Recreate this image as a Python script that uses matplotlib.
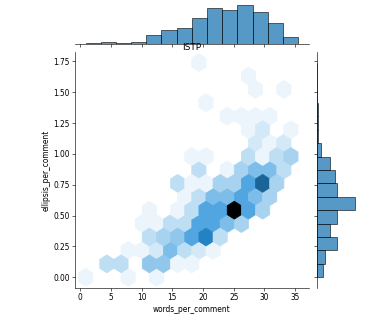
import colorsys
import numpy as np
import matplotlib
matplotlib.use("Agg")
import matplotlib.pyplot as plt
from matplotlib.colors import LinearSegmentedColormap, to_rgb, Normalize

# ---------------- data ----------------
title = "ISTP"
x_label = "words_per_comment"
y_label = "ellipsis_per_comment"

# hexbin cells (cell centre in data units, number of users in the cell)
hex_words = [
    19.34,
    27.43,
    28.58, 33.20,
    20.50,
    23.96, 26.27, 28.58, 30.89,
    27.43, 29.74, 34.36,
    28.58, 30.89, 33.20,
    18.19, 20.50, 27.43, 29.74, 32.05, 34.36,
    19.34, 23.96, 26.27, 28.58, 30.89, 33.20,
    15.88, 18.19, 20.50, 22.81, 25.12, 27.43, 29.74, 32.05,
    17.03, 19.34, 21.65, 23.96, 26.27, 28.58, 30.89,
    11.26, 15.88, 18.19, 20.50, 22.81, 25.12, 27.43, 29.74,
    10.10, 12.41, 14.72, 17.03, 19.34, 21.65, 23.96, 26.27,
    11.26, 13.57, 15.88, 18.19, 20.50, 22.81,
    7.79, 10.10, 12.41, 14.72, 17.03, 19.34, 21.65,
    4.33, 6.64, 11.26, 13.57, 15.88, 18.19,
    0.86, 7.79, 12.41,
]
hex_ellipsis = [
    1.74,
    1.63,
    1.52, 1.52,
    1.41,
    1.305, 1.305, 1.305, 1.305,
    1.196, 1.196, 1.196,
    1.0875, 1.0875, 1.0875,
    0.979, 0.979, 0.979, 0.979, 0.979, 0.979,
    0.87, 0.87, 0.87, 0.87, 0.87, 0.87,
    0.761, 0.761, 0.761, 0.761, 0.761, 0.761, 0.761, 0.761,
    0.6525, 0.6525, 0.6525, 0.6525, 0.6525, 0.6525, 0.6525,
    0.544, 0.544, 0.544, 0.544, 0.544, 0.544, 0.544, 0.544,
    0.435, 0.435, 0.435, 0.435, 0.435, 0.435, 0.435, 0.435,
    0.326, 0.326, 0.326, 0.326, 0.326, 0.326,
    0.2175, 0.2175, 0.2175, 0.2175, 0.2175, 0.2175, 0.2175,
    0.109, 0.109, 0.109, 0.109, 0.109, 0.109,
    0.0, 0.0, 0.0,
]
hex_counts = [
    1,
    1,
    1, 1,
    1,
    1, 1, 1, 1,
    1, 2, 1,
    2, 1, 2,
    1, 1, 3, 1, 3, 4,
    3, 1, 4, 6, 6, 3,
    3, 1, 1, 4, 4, 8, 13, 4,
    1, 3, 6, 6, 8, 6, 4,
    1, 1, 3, 8, 8, 20, 8, 4,
    1, 1, 3, 3, 8, 8, 6, 4,
    3, 4, 5, 8, 11, 3,
    1, 1, 2, 6, 3, 2, 1,
    3, 3, 5, 5, 1, 1,
    1, 1, 1,
]

# marginal histograms (counts per bin)
words_range = (0.86, 35.5)
words_hist = [1, 2, 1, 3, 12, 20, 22, 37, 50, 48, 55, 45, 30, 10]
ellipsis_range = (0.0, 1.74)
ellipsis_hist = [13, 16, 40, 27, 40, 77, 40, 37, 27, 8, 3, 3, 2, 1, 0, 1]

# ---------------- style ----------------
plt.rcParams["font.family"] = ["DejaVu Sans"]
base = to_rgb("C0")
h, l, s = colorsys.rgb_to_hls(*base)
cols = [colorsys.hls_to_rgb(h, lv, s) for lv in np.linspace(1, 0, 12)]
cmap = LinearSegmentedColormap.from_list("blend", cols)

W, H, DPI = 371, 322, 54
fig = plt.figure(figsize=(W / DPI, H / DPI), dpi=DPI)
gs = fig.add_gridspec(6, 6, left=75 / W, right=357 / W, bottom=1 - 288 / H,
                      top=1 - 3 / H, wspace=0.2, hspace=0.2)
ax = fig.add_subplot(gs[1:, :-1])
axx = fig.add_subplot(gs[0, :-1], sharex=ax)
axy = fig.add_subplot(gs[1:, -1], sharey=ax)

ax.hexbin(hex_words, hex_ellipsis, C=hex_counts, reduce_C_function=np.sum,
          gridsize=(15, 8), extent=(words_range[0], words_range[1],
                                    ellipsis_range[0], ellipsis_range[1]),
          cmap=cmap, norm=Normalize(vmin=0, vmax=max(hex_counts)))

wb = np.linspace(words_range[0], words_range[1], len(words_hist) + 1)
eb = np.linspace(ellipsis_range[0], ellipsis_range[1], len(ellipsis_hist) + 1)
axx.hist((wb[:-1] + wb[1:]) / 2, bins=wb, weights=words_hist,
         facecolor="C0", edgecolor="black", alpha=0.75, linewidth=1)
axy.hist((eb[:-1] + eb[1:]) / 2, bins=eb, weights=ellipsis_hist,
         orientation="horizontal", facecolor="C0", edgecolor="black",
         alpha=0.75, linewidth=1)

for a in (ax, axx, axy):
    a.spines["top"].set_visible(False)
    a.spines["right"].set_visible(False)
axx.spines["left"].set_visible(False)
axy.spines["bottom"].set_visible(False)
axx.tick_params(axis="x", labelbottom=False)
axx.tick_params(axis="y", left=False, labelleft=False)
axy.tick_params(axis="y", labelleft=False)
axy.tick_params(axis="x", bottom=False, labelbottom=False)

ax.set_xticks([0, 5, 10, 15, 20, 25, 30, 35])
ax.set_yticks([0, 0.25, 0.5, 0.75, 1.0, 1.25, 1.5, 1.75])
ax.set_xlabel(x_label)
ax.set_ylabel(y_label)
t = ax.set_title(title, pad=2.5)
t.set_zorder(10)
ax.set_zorder(3)
ax.patch.set_visible(False)

fig.savefig("out.png", dpi=DPI)
